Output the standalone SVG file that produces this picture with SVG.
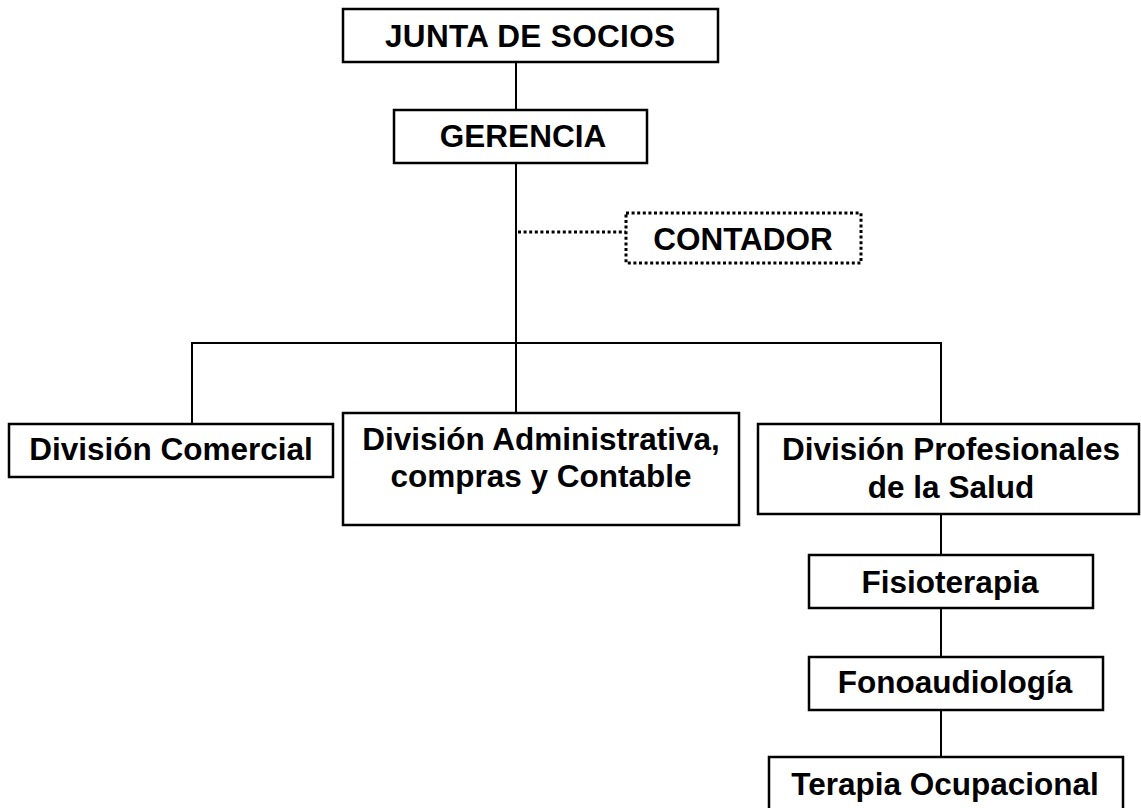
<svg xmlns="http://www.w3.org/2000/svg" width="1141" height="808" viewBox="0 0 1141 808">
<style>
.box{fill:#fff;stroke:#000;stroke-width:2.5}
.dot{fill:none;stroke:#000;stroke-width:3;stroke-dasharray:3 2.6}
.ln{fill:none;stroke:#000;stroke-width:2}
text{font-family:"Liberation Sans",Arial,sans-serif;font-weight:bold;font-size:31.5px;fill:#000;text-anchor:middle}
</style>
<rect width="1141" height="808" fill="#fff"/>
<g id="connectors">
<line class="ln" x1="516" y1="58" x2="516" y2="110"/>
<line class="ln" x1="516" y1="160" x2="516" y2="413"/>
<polyline class="ln" points="192,424 192,343 941,343 941,424"/>
<line class="dot" x1="518" y1="232" x2="626" y2="232"/>
<line class="ln" x1="941" y1="512" x2="941" y2="555"/>
<line class="ln" x1="941" y1="606" x2="941" y2="657"/>
<line class="ln" x1="941" y1="707" x2="941" y2="757"/>
</g>
<g id="junta"><rect class="box" x="343" y="9" width="375" height="53"/><text x="530" y="47" textLength="290" lengthAdjust="spacing">JUNTA DE SOCIOS</text></g>
<g id="gerencia"><rect class="box" x="394" y="110" width="253" height="53"/><text x="523" y="147">GERENCIA</text></g>
<g id="contador"><rect class="dot" x="626" y="213" width="235" height="50"/><text x="743" y="250">CONTADOR</text></g>
<g id="comercial"><rect class="box" x="9" y="424" width="324" height="53"/><text x="171" y="460">División Comercial</text></g>
<g id="administrativa"><rect class="box" x="343" y="413" width="396" height="112"/><text x="541" y="450">División Administrativa,</text><text x="541" y="487">compras y Contable</text></g>
<g id="profesionales"><rect class="box" x="758" y="424" width="381" height="90"/><text x="951" y="460">División Profesionales</text><text x="951" y="498">de la Salud</text></g>
<g id="fisioterapia"><rect class="box" x="809" y="555" width="284" height="53"/><text x="950" y="593">Fisioterapia</text></g>
<g id="fonoaudiologia"><rect class="box" x="809" y="657" width="294" height="53"/><text x="955" y="693">Fonoaudiología</text></g>
<g id="terapia"><rect class="box" x="769" y="757" width="354" height="60"/><text x="945" y="795">Terapia Ocupacional</text></g>
</svg>
